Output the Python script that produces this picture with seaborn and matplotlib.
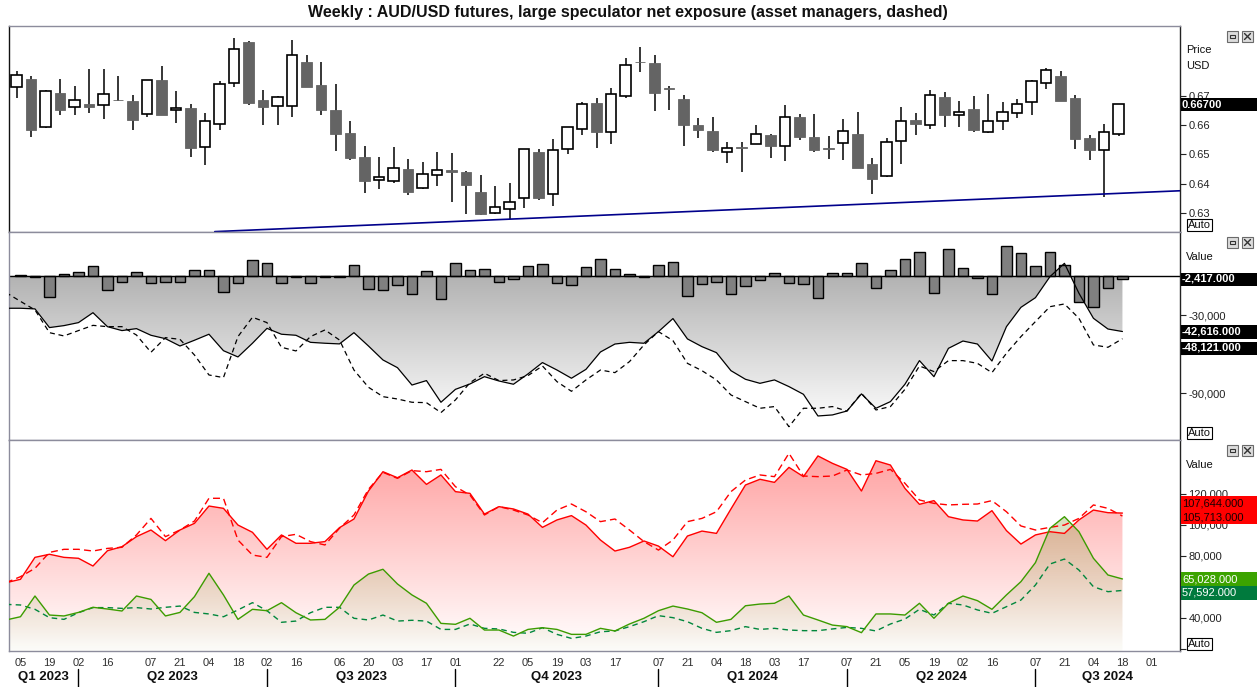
import numpy as np
import matplotlib
matplotlib.use("Agg")
import matplotlib.pyplot as plt
import seaborn as sns
from matplotlib.patches import Rectangle, PathPatch
from matplotlib.path import Path
from matplotlib.lines import Line2D
from matplotlib.transforms import blended_transform_factory
from matplotlib.ticker import FuncFormatter, FixedLocator

TITLE = "Weekly : AUD/USD futures, large speculator net exposure (asset managers, dashed)"

# ---- weekly AUD/USD futures candles (week 0 .. 76) ----
OPEN = [0.6728, 0.6756, 0.6592, 0.6709, 0.6660, 0.6671, 0.6667, 0.6686, 0.6681, 0.6636,
        0.6753, 0.6650, 0.6658, 0.6524, 0.6602, 0.6742, 0.6882, 0.6685, 0.6663, 0.6663,
        0.6814, 0.6736, 0.6651, 0.6573, 0.6491, 0.6412, 0.6408, 0.6450, 0.6384, 0.6429,
        0.6446, 0.6440, 0.6372, 0.6299, 0.6313, 0.6350, 0.6508, 0.6364, 0.6517, 0.6585,
        0.6675, 0.6575, 0.6697, 0.6814, 0.6811, 0.6726, 0.6688, 0.6600, 0.6579, 0.6507,
        0.6524, 0.6534, 0.6566, 0.6527, 0.6627, 0.6559, 0.6522, 0.6539, 0.6569, 0.6467,
        0.6425, 0.6544, 0.6617, 0.6600, 0.6695, 0.6633, 0.6653, 0.6577, 0.6612, 0.6639,
        0.6677, 0.6743, 0.6767, 0.6692, 0.6554, 0.6514, 0.6570]
HIGH = [0.6783, 0.6766, 0.6718, 0.6756, 0.6732, 0.6790, 0.6790, 0.6766, 0.6702, 0.6753,
        0.6801, 0.6715, 0.6671, 0.6641, 0.6749, 0.6896, 0.6884, 0.6719, 0.6698, 0.6889,
        0.6837, 0.6814, 0.6739, 0.6612, 0.6528, 0.6491, 0.6525, 0.6484, 0.6475, 0.6508,
        0.6505, 0.6443, 0.6430, 0.6392, 0.6402, 0.6517, 0.6517, 0.6552, 0.6592, 0.6677,
        0.6691, 0.6725, 0.6828, 0.6865, 0.6837, 0.6732, 0.6702, 0.6622, 0.6627, 0.6542,
        0.6542, 0.6600, 0.6569, 0.6668, 0.6636, 0.6636, 0.6561, 0.6619, 0.6644, 0.6488,
        0.6554, 0.6661, 0.6641, 0.6718, 0.6711, 0.6680, 0.6698, 0.6705, 0.6677, 0.6688,
        0.6753, 0.6794, 0.6782, 0.6702, 0.6566, 0.6603, 0.6670]
LOW = [0.6693, 0.6560, 0.6590, 0.6634, 0.6634, 0.6642, 0.6621, 0.6683, 0.6584, 0.6628,
       0.6634, 0.6608, 0.6492, 0.6462, 0.6581, 0.6730, 0.6666, 0.6598, 0.6598, 0.6628,
       0.6728, 0.6632, 0.6512, 0.6482, 0.6370, 0.6383, 0.6404, 0.6360, 0.6381, 0.6393,
       0.6337, 0.6296, 0.6295, 0.6298, 0.6280, 0.6316, 0.6346, 0.6325, 0.6502, 0.6567,
       0.6523, 0.6536, 0.6691, 0.6781, 0.6647, 0.6652, 0.6529, 0.6557, 0.6507, 0.6472,
       0.6441, 0.6534, 0.6489, 0.6478, 0.6549, 0.6507, 0.6484, 0.6482, 0.6452, 0.6366,
       0.6423, 0.6466, 0.6566, 0.6585, 0.6594, 0.6592, 0.6577, 0.6574, 0.6584, 0.6622,
       0.6632, 0.6723, 0.6680, 0.6519, 0.6482, 0.6354, 0.6562]
CLOSE = [0.6770, 0.6581, 0.6714, 0.6649, 0.6684, 0.6662, 0.6704, 0.6684, 0.6615, 0.6752,
         0.6635, 0.6657, 0.6523, 0.6612, 0.6738, 0.6857, 0.6676, 0.6662, 0.6694, 0.6837,
         0.6730, 0.6652, 0.6570, 0.6489, 0.6410, 0.6422, 0.6452, 0.6373, 0.6433, 0.6446,
         0.6439, 0.6397, 0.6298, 0.6320, 0.6337, 0.6517, 0.6353, 0.6514, 0.6592, 0.6670,
         0.6577, 0.6704, 0.6803, 0.6813, 0.6710, 0.6721, 0.6598, 0.6584, 0.6515, 0.6520,
         0.6520, 0.6568, 0.6529, 0.6626, 0.6560, 0.6516, 0.6519, 0.6578, 0.6455, 0.6417,
         0.6541, 0.6612, 0.6602, 0.6701, 0.6633, 0.6643, 0.6584, 0.6612, 0.6643, 0.6670,
         0.6748, 0.6786, 0.6683, 0.6553, 0.6516, 0.6575, 0.6670]

# support trend line (two anchor points: week, price)
TREND_WEEK = [13.4, 80.0]
TREND_PRICE = [0.6237, 0.6376]

# ---- positioning (thousands of contracts), weeks -1 .. 76 ----
NET_SPEC = [-24.8, -24.8, -25.3, -39.6, -38.1, -35.8, -28.2, -38.9, -41.9, -40.4,
            -45.5, -48.1, -53.7, -49.3, -44.7, -57.3, -62.1, -51.6, -40.2, -44.7,
            -45.5, -50.9, -51.6, -52.1, -43.5, -53.7, -64.4, -70.3, -83.6, -80.2,
            -96.8, -86.9, -82.8, -77.2, -80.5, -83.0, -75.1, -66.4, -72.1, -78.4,
            -71.6, -58.3, -52.2, -50.9, -51.6, -42.7, -32.7, -48.3, -54.2, -58.8,
            -72.6, -79.2, -82.3, -79.7, -84.8, -90.7, -107.3, -106.5, -103.5, -90.4,
            -101.4, -96.3, -83.0, -64.9, -77.2, -55.5, -49.9, -52.2, -65.2, -38.9,
            -24.1, -16.7, -0.6, 9.6, -13.3, -32.5, -40.7, -42.616]
NET_AM = [-12.8, -19.5, -26.1, -43.5, -46.0, -41.9, -37.9, -38.9, -38.9, -45.3,
          -58.5, -47.3, -48.6, -60.6, -75.9, -77.9, -46.5, -31.7, -35.8, -54.7,
          -57.5, -46.5, -41.4, -49.1, -72.1, -85.3, -92.5, -94.3, -96.8, -97.1,
          -104.7, -95.0, -81.8, -74.6, -80.2, -79.7, -76.4, -69.0, -81.0, -88.4,
          -79.7, -72.1, -74.1, -65.7, -52.9, -42.7, -49.6, -67.0, -72.6, -79.7,
          -91.2, -96.3, -101.4, -100.1, -115.5, -101.4, -101.4, -100.1, -103.5, -89.9,
          -102.7, -100.1, -86.9, -69.0, -73.3, -64.9, -64.9, -67.0, -74.1, -59.3,
          -46.5, -35.0, -23.6, -21.5, -32.5, -52.9, -54.7, -48.121]
# weekly change in large speculator net (weeks 0 .. 76)
NET_CHANGE = [0.8, -1.0, -15.8, 1.3, 2.8, 7.4, -11.2, -4.9, 2.8, -5.6,
              -4.9, -4.9, 4.3, 4.3, -12.5, -5.6, 12.0, 9.7, -5.6, -1.0,
              -5.6, -0.8, -0.8, 8.2, -10.2, -11.2, -7.1, -14.0, 3.6, -17.9,
              9.7, 4.3, 5.1, -4.9, -2.6, 7.4, 8.9, -5.6, -7.1, 6.6,
              12.8, 5.1, 1.3, -1.0, 8.2, 10.5, -15.6, -6.4, -4.9, -14.0,
              -7.9, -3.3, 2.0, -5.6, -6.4, -17.1, 2.0, 2.0, 9.7, -9.4,
              4.3, 12.8, 18.1, -13.3, 20.4, 5.9, -1.8, -14.0, 23.0, 17.4,
              7.7, 18.1, 8.2, -20.2, -23.5, -9.4, -2.417]
SHORT_SPEC = [62.6, 64.8, 79.0, 81.0, 79.0, 78.4, 73.4, 83.3, 85.9, 92.4,
              96.7, 89.8, 96.7, 101.0, 112.2, 110.7, 99.9, 95.2, 84.2, 93.5,
              88.1, 88.1, 89.2, 98.2, 103.8, 121.9, 134.4, 130.5, 135.5, 126.2,
              132.3, 121.5, 120.4, 107.0, 111.8, 110.3, 107.0, 98.4, 103.2, 106.0,
              99.9, 90.2, 83.1, 85.5, 89.6, 86.3, 79.4, 92.8, 96.0, 94.5,
              110.3, 125.8, 129.5, 127.5, 137.2, 131.2, 144.6, 139.8, 135.9, 121.9,
              141.5, 138.7, 123.6, 113.3, 115.7, 105.3, 103.2, 102.5, 109.2, 96.3,
              87.6, 93.5, 95.6, 94.5, 103.2, 109.6, 107.9, 107.644]
SHORT_AM = [62.6, 66.5, 71.9, 82.2, 84.2, 84.2, 83.1, 84.8, 85.5, 93.5,
            104.2, 92.4, 96.7, 102.5, 117.2, 117.2, 90.2, 80.5, 79.0, 92.4,
            93.9, 89.2, 87.0, 97.8, 106.4, 123.0, 134.0, 130.1, 135.1, 134.4,
            135.9, 124.7, 119.3, 106.4, 111.8, 109.6, 106.4, 101.4, 109.6, 113.5,
            108.5, 102.1, 103.8, 96.7, 89.2, 83.7, 90.2, 102.1, 104.2, 108.5,
            121.5, 129.0, 132.3, 131.2, 146.3, 131.6, 131.2, 131.6, 135.5, 132.3,
            133.3, 135.9, 126.9, 116.1, 113.9, 112.9, 113.3, 113.5, 115.7, 108.5,
            99.3, 96.7, 98.4, 99.9, 104.2, 112.9, 110.7, 105.713]
LONG_SPEC = [38.5, 40.6, 54.0, 41.7, 41.1, 43.4, 46.7, 45.6, 44.3, 54.0,
             51.8, 41.1, 43.4, 53.6, 68.7, 54.7, 38.9, 45.4, 44.5, 49.7,
             43.2, 38.5, 38.9, 46.7, 61.1, 68.2, 71.3, 61.8, 54.7, 49.3,
             36.3, 35.7, 39.6, 32.0, 32.0, 28.1, 32.4, 33.5, 32.4, 29.2,
             29.2, 33.1, 31.4, 35.9, 39.6, 44.5, 47.5, 45.6, 43.2, 37.0,
             38.9, 47.7, 48.8, 49.3, 54.0, 41.7, 38.5, 35.2, 34.2, 30.3,
             42.4, 42.4, 41.7, 49.3, 39.6, 49.3, 54.0, 51.0, 45.4, 54.7,
             63.3, 75.6, 97.8, 105.3, 95.6, 78.4, 67.6, 65.028]
LONG_AM = [48.6, 48.2, 45.4, 40.0, 38.9, 43.2, 46.5, 46.5, 46.0, 46.5,
           45.6, 46.7, 47.5, 43.4, 42.4, 40.6, 45.0, 49.7, 44.5, 37.0,
           37.8, 43.2, 46.7, 46.7, 39.6, 38.5, 41.7, 37.8, 38.3, 37.8,
           32.4, 32.4, 35.9, 33.1, 32.7, 30.5, 29.9, 33.5, 29.2, 26.6,
           28.1, 30.9, 31.4, 34.2, 37.4, 41.3, 40.0, 37.4, 33.1, 30.5,
           31.6, 34.2, 32.4, 33.1, 32.0, 31.6, 31.6, 32.7, 33.7, 33.1,
           31.4, 35.9, 39.1, 45.4, 41.7, 49.3, 48.2, 45.0, 42.8, 47.1,
           51.4, 61.1, 74.7, 77.9, 70.8, 60.0, 56.8, 57.592]

# ---- x axis labels ----
TICK_WEEKS = [0, 2, 4, 6, 9, 11, 13, 15, 17, 19, 22, 24, 26, 28, 30, 33, 35, 37, 39, 41,
              44, 46, 48, 50, 52, 54, 57, 59, 61, 63, 65, 67, 70, 72, 74, 76, 78]
TICK_LABELS = ["05", "19", "02", "16", "07", "21", "04", "18", "02", "16", "06", "20", "03", "17",
               "01", "22", "05", "19", "03", "17", "07", "21", "04", "18", "03", "17", "07", "21",
               "05", "19", "02", "16", "07", "21", "04", "18", "01"]
QUARTERS = ["Q1 2023", "Q2 2023", "Q3 2023", "Q4 2023", "Q1 2024", "Q2 2024", "Q3 2024"]
QUARTER_START = [-9, 4, 17, 30, 44, 57, 70]
QUARTER_END = [4, 17, 30, 44, 57, 70, 83]

# ---------------------------------------------------------------------------
sns.set_theme(style="white")
plt.rcParams['font.family'] = ['Liberation Sans', 'DejaVu Sans']

W, H = 1257, 687
fig = plt.figure(figsize=(W / 100, H / 100), dpi=100)
fig.patch.set_facecolor('white')


def fx(px):
    return px / W


def fy(py):
    return 1 - py / H


XL, XR = 9.3, 1180.0
XMIN, XMAX = -0.77, 79.97


def add_ax(top, bottom):
    return fig.add_axes([fx(XL), fy(bottom), (XR - XL) / W, (bottom - top) / H])


ax1 = add_ax(26.3, 232)
ax2 = add_ax(232, 440)
ax3 = add_ax(440, 651)

weeks = np.arange(len(OPEN))
line_x = np.arange(-1, len(OPEN))


def gradient_under(ax, x, y, base, ylo, yhi, color_fn, zorder):
    verts = list(zip(x, y)) + [(x[-1], base), (x[0], base), (x[0], y[0])]
    codes = [Path.MOVETO] + [Path.LINETO] * (len(verts) - 2) + [Path.CLOSEPOLY]
    patch = PathPatch(Path(verts, codes), facecolor='none', edgecolor='none',
                      transform=ax.transData)
    ax.add_patch(patch)
    vals = np.linspace(ylo, yhi, 400)
    rgba = np.array([color_fn(v) for v in vals]).reshape(400, 1, 4)
    im = ax.imshow(rgba, extent=[XMIN - 2, XMAX + 2, ylo, yhi], origin='lower',
                   aspect='auto', interpolation='bilinear', zorder=zorder)
    im.set_clip_path(patch)


# ---------------- panel 1 : candles ----------------
CANDLE_SHIFT = -0.26
BODY_W = 0.72
for i, (o, h, l, c) in enumerate(zip(OPEN, HIGH, LOW, CLOSE)):
    xc = i + CANDLE_SHIFT
    ax1.vlines(xc, l, h, color='black', lw=1.1, zorder=2)
    bull = c >= o
    lo, hi = min(o, c), max(o, c)
    ht = max(hi - lo, 0.00018)
    ax1.add_patch(Rectangle((xc - BODY_W / 2, lo), BODY_W, ht,
                            facecolor='white' if bull else '#646464',
                            edgecolor='black' if bull else '#646464',
                            lw=1.2 if bull else 0.6, zorder=3))
sns.lineplot(x=TREND_WEEK, y=TREND_PRICE, ax=ax1, color='#00008b', linewidth=1.2,
             estimator=None, sort=False, legend=False, zorder=4)
ax1.set_ylim(0.62357, 0.69354)
ax1.yaxis.set_major_locator(FixedLocator([0.63, 0.64, 0.65, 0.66, 0.67]))
ax1.yaxis.set_major_formatter(FuncFormatter(lambda v, p: f"{v:.2f}"))

# ---------------- panel 2 : net exposure ----------------
Y2LO, Y2HI = -125.7, 33.6


def gray_fn(v):
    g = float(np.clip(0.70 + (-v) / 110.0 * 0.285, 0.70, 0.985))
    return (g, g, g, 1.0)


gradient_under(ax2, line_x, NET_SPEC, 0.0, Y2LO, Y2HI, gray_fn, 0.5)
sns.barplot(x=weeks, y=NET_CHANGE, native_scale=True, color='#808080', saturation=1,
            edgecolor='black', linewidth=1.0, width=0.7, errorbar=None, ax=ax2, zorder=2)
ax2.axhline(0, color='black', lw=1.0, zorder=2.5)
sns.lineplot(x=line_x, y=NET_SPEC, ax=ax2, color='black', linewidth=0.9,
             estimator=None, sort=False, legend=False, zorder=3)
sns.lineplot(x=line_x, y=NET_AM, ax=ax2, color='black', linewidth=0.9,
             linestyle=(0, (4, 3)), estimator=None, sort=False, legend=False, zorder=3)
ax2.set_ylim(Y2LO, Y2HI)
ax2.yaxis.set_major_locator(FixedLocator([0, -30, -60, -90]))
# labels for 0 and -60,000 sit under the value boxes in the reference
ax2.yaxis.set_major_formatter(FuncFormatter(
    lambda v, p: "" if round(v) in (0, -60) else f"{v * 1000:,.0f}"))

# ---------------- panel 3 : longs / shorts ----------------
Y3LO, Y3HI = 18.44, 154.9


def red_fn(v):
    t = float(np.clip((v - 20.0) / 120.0, 0, 1))
    c = 1 - 0.35 * t
    return (1.0, c, c, 1.0)


def green_fn(v):
    a = float(np.clip(0.03 + 0.26 * (v - 20.0) / 90.0, 0.03, 0.3))
    return (0.45, 0.55, 0.1, a)


gradient_under(ax3, line_x, SHORT_SPEC, 0.0, Y3LO, Y3HI, red_fn, 0.5)
gradient_under(ax3, line_x, LONG_SPEC, 0.0, Y3LO, Y3HI, green_fn, 0.6)
sns.lineplot(x=line_x, y=SHORT_AM, ax=ax3, color='#ff0000', linewidth=1.0,
             linestyle=(0, (5, 3)), estimator=None, sort=False, legend=False, zorder=3)
sns.lineplot(x=line_x, y=SHORT_SPEC, ax=ax3, color='#ff0000', linewidth=1.0,
             estimator=None, sort=False, legend=False, zorder=3)
sns.lineplot(x=line_x, y=LONG_AM, ax=ax3, color='#00873c', linewidth=1.0,
             linestyle=(0, (4, 3)), estimator=None, sort=False, legend=False, zorder=3)
sns.lineplot(x=line_x, y=LONG_SPEC, ax=ax3, color='#3c9c00', linewidth=1.0,
             estimator=None, sort=False, legend=False, zorder=3)
ax3.set_ylim(Y3LO, Y3HI)
ax3.yaxis.set_major_locator(FixedLocator([20, 40, 60, 80, 100, 120]))
ax3.yaxis.set_major_formatter(FuncFormatter(
    lambda v, p: "" if round(v) in (20, 60) else f"{v * 1000:,.0f}"))

# ---------------- common styling ----------------
for ax in (ax1, ax2, ax3):
    ax.set_facecolor('white')
    ax.set_xlim(XMIN, XMAX)
    ax.set_aspect('auto')
    ax.yaxis.tick_right()
    ax.tick_params(axis='y', direction='out', length=4, width=0.8, pad=2,
                   labelsize=8, colors='#222222', right=True, left=False)
    ax.tick_params(axis='x', bottom=False, labelbottom=False)
    for s in ax.spines.values():
        s.set_color('#8c8c9c')
        s.set_linewidth(1.0)
    ax.spines['right'].set_color('#222222')
    ax.grid(False)
    ax.set_xlabel('')
    ax.set_ylabel('')
ax1.spines['left'].set_color('#111111')

ax3.xaxis.set_major_locator(FixedLocator(TICK_WEEKS))
ax3.set_xticklabels(TICK_LABELS)
ax3.tick_params(axis='x', bottom=True, labelbottom=True, length=0, pad=5,
                labelsize=8, colors='#303030')
ax3.set_xlim(XMIN, XMAX)

# quarter labels + dividers
bt = blended_transform_factory(ax3.transData, fig.transFigure)
for q, s, e in zip(QUARTERS, QUARTER_START, QUARTER_END):
    mid = (max(s, XMIN) + min(e, XMAX)) / 2
    fig.text(mid, fy(677), q, transform=bt, ha='center', va='center',
             fontsize=9.5, fontweight='bold', color='#111111')
    if XMIN < s < XMAX:
        fig.add_artist(Line2D([s, s], [fy(669), fy(687)], transform=bt,
                              color='black', lw=1.0))

# title
fig.text(fx(628), fy(12), TITLE, ha='center', va='center', fontsize=11.5,
         fontweight='bold', color='#111111')


# ---------------- right-margin annotations ----------------
def box(y0, y1, bg):
    fig.add_artist(Rectangle((fx(1181), fy(y1)), (1257 - 1181) / W, (y1 - y0) / H,
                             transform=fig.transFigure, facecolor=bg,
                             edgecolor='none', zorder=5))


def btext(yc, s, color, weight='bold'):
    fig.text(fx(1182), fy(yc), s, ha='left', va='center', fontsize=8,
             fontweight=weight, color=color, zorder=6)


def label(yc, s):
    fig.text(fx(1186), fy(yc), s, ha='left', va='center', fontsize=8,
             color='#111111', zorder=6)


def auto(yc):
    fig.text(fx(1188), fy(yc), "Auto", ha='left', va='center', fontsize=8,
             color='#111111', zorder=6,
             bbox=dict(boxstyle='square,pad=0.12', fc='white', ec='black', lw=0.8))


def icons(ytop):
    for k, x0 in enumerate([1227, 1242]):
        fig.add_artist(Rectangle((fx(x0), fy(ytop + 11)), 11 / W, 11 / H,
                                 transform=fig.transFigure, facecolor='#dcdcdc',
                                 edgecolor='#6a6a6a', lw=0.8, zorder=5))
        if k == 0:
            fig.add_artist(Rectangle((fx(x0 + 3), fy(ytop + 7)), 5 / W, 3 / H,
                                     transform=fig.transFigure, facecolor='none',
                                     edgecolor='#333333', lw=0.8, zorder=6))
        else:
            fig.add_artist(Line2D([fx(x0 + 2.5), fx(x0 + 8.5)], [fy(ytop + 2.5), fy(ytop + 8.5)],
                                  transform=fig.transFigure, color='#333333', lw=1.0, zorder=6))
            fig.add_artist(Line2D([fx(x0 + 2.5), fx(x0 + 8.5)], [fy(ytop + 8.5), fy(ytop + 2.5)],
                                  transform=fig.transFigure, color='#333333', lw=1.0, zorder=6))


# panel 1
icons(31)
label(50, "Price")
label(66, "USD")
box(97.5, 111, 'black')
btext(104.5, f"{CLOSE[-1]:.5f}", 'white')
auto(225)

# panel 2
icons(237)
label(257, "Value")
box(272.5, 285.5, 'black')
btext(279, f"{NET_CHANGE[-1] * 1000:,.3f}", 'white')
box(325.5, 339, 'black')
btext(332, f"{NET_SPEC[-1] * 1000:,.3f}", 'white')
box(341.5, 355, 'black')
btext(348, f"{NET_AM[-1] * 1000:,.3f}", 'white')
auto(433)

# panel 3
icons(445)
label(465, "Value")
box(496, 524, '#ff0000')
btext(503, f"{SHORT_SPEC[-1] * 1000:,.3f}", '#1a0000', 'normal')
btext(517, f"{SHORT_AM[-1] * 1000:,.3f}", '#1a0000', 'normal')
box(572, 586, '#3ca300')
btext(579, f"{LONG_SPEC[-1] * 1000:,.3f}", 'white', 'normal')
box(586, 599.5, '#007a3d')
btext(592.5, f"{LONG_AM[-1] * 1000:,.3f}", 'white', 'normal')
auto(644)

fig.savefig("out.png", dpi=100, facecolor='white')
